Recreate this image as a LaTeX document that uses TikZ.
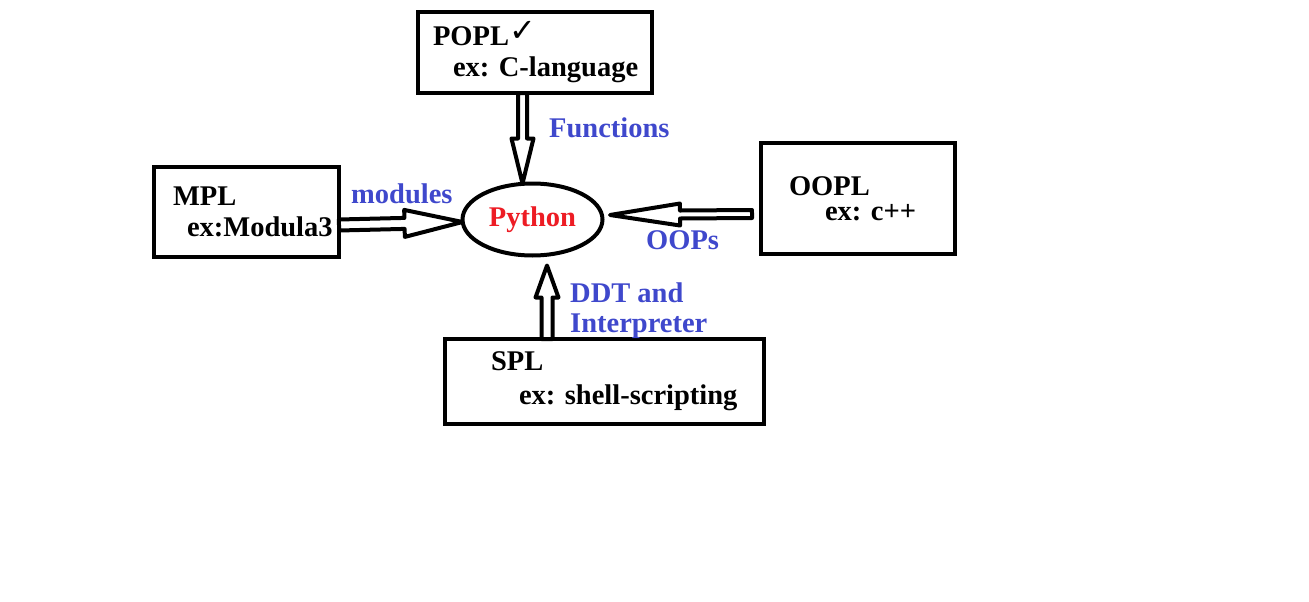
\documentclass[tikz,border=0pt]{standalone}
\usepackage{fontspec}
\setmainfont{Liberation Serif}
\newfontfamily\checkfont{DejaVu Sans}
\usetikzlibrary{shapes.geometric,calc}
\definecolor{pyred}{HTML}{ED1C24}
\definecolor{lblblue}{HTML}{3F48CC}
\frenchspacing

\begin{document}
\begin{tikzpicture}[
    x=1pt, y=-1pt,
    lang/.style={draw, line width=4pt, outer sep=0pt, inner sep=0pt, align=left, anchor=north west, font=\fontsize{28.5}{33}\selectfont\bfseries},
    lbl/.style={text=lblblue, inner sep=0pt, font=\fontsize{28.5}{30}\selectfont\bfseries},
    arr/.style n args={3}{line width=4pt, line join=round, to path={
        let \p1=(\tikztostart), \p2=(\tikztotarget),
            \n1={atan2(\y2-\y1,\x2-\x1)}, \n2={veclen(\x2-\x1,\y2-\y1)} in
        ($(\p1)+(\n1+90:#3)$) -- ($(\p1)+(\n1:\n2-#1)+(\n1+90:#3)$)
        -- ($(\p1)+(\n1:\n2-#1)+(\n1+90:#2)$) -- (\p2)
        -- ($(\p1)+(\n1:\n2-#1)+(\n1-90:#2)$) -- ($(\p1)+(\n1:\n2-#1)+(\n1-90:#3)$)
        -- ($(\p1)+(\n1-90:#3)$) -- cycle}}
]
\useasboundingbox (0,0) rectangle (1309,602);
\node[lang, minimum width=234pt, minimum height=81pt, text width=234pt] (popl) at (418,12) {\hspace*{15pt}POPL\raisebox{4pt}{\checkfont\fontsize{32}{32}\selectfont ✓}\\[-2pt]\hspace*{35pt}ex: C-language};
\node[lang, minimum width=185pt, minimum height=90pt, text width=185pt] (mpl) at (154,167) {\hspace*{19pt}MPL\\[-2pt]\hspace*{33pt}ex:Modula3};
\node[lang, minimum width=194pt, minimum height=111pt, text width=194pt] (oopl) at (761,143) {\hspace*{28pt}OOPL\\[-8pt]\hspace*{64pt}ex: c++};
\node[lang, minimum width=319pt, minimum height=85pt, text width=319pt] (spl) at (445,339) {\hspace*{46pt}SPL\\[1pt]\hspace*{74pt}ex: shell-scripting};
\node[ellipse, draw, line width=4pt, minimum width=140pt, minimum height=72pt, inner sep=0pt, outer sep=0pt, text=pyred, font=\fontsize{28.5}{33}\selectfont\bfseries] (py) at (532.5,219.5) {Python};
\draw[arr={45pt}{11pt}{4.5pt}] ([xshift=-12.5pt]popl.south) to ([xshift=-10pt]py.north);
\draw[arr={58pt}{13.5pt}{5.5pt}] ([yshift=-13pt]mpl.east) to ([yshift=-2.5pt]py.west);
\draw[arr={70pt}{11pt}{4pt}] ([xshift=-9pt,yshift=-15.5pt]oopl.west) to ([xshift=7.5pt,yshift=4.5pt]py.east);
\draw[arr={32pt}{11.5pt}{5.5pt}] ([xshift=-57.5pt]spl.north) to ([xshift=14.5pt,yshift=-10pt]py.south);
\node[lbl, anchor=base west] (lblfun) at (549,137) {Functions};
\node[lbl, anchor=base west] (lblmod) at (351,203) {modules};
\node[lbl, anchor=base west] (lbloop) at (646,249) {OOPs};
\node[lbl, anchor=north west, align=left] (lblddt) at (570,282.5) {DDT and\\Interpreter};
\end{tikzpicture}
\end{document}
